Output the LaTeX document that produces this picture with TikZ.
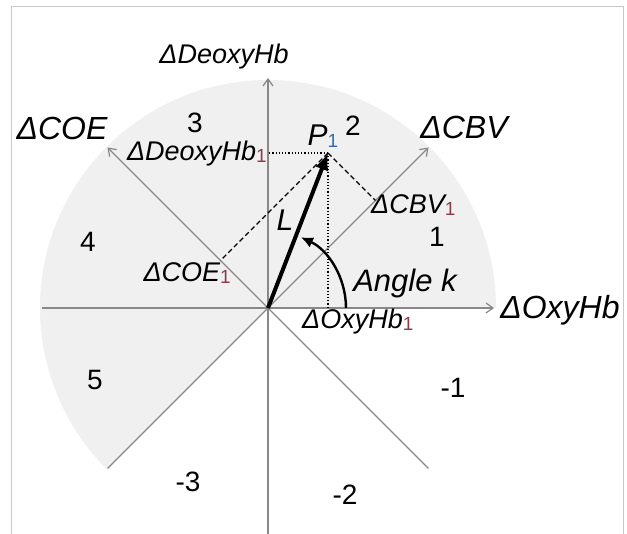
\documentclass[tikz,border=0pt]{standalone}
\usepackage{fontspec}
\setmainfont{Liberation Sans}
\usetikzlibrary{arrows.meta}
\definecolor{axisgray}{RGB}{136,136,136}
\definecolor{sectorgray}{RGB}{240,240,240}
\definecolor{framegray}{RGB}{200,200,200}
\definecolor{subred}{RGB}{140,60,70}
\definecolor{subblue}{RGB}{50,110,180}
\newcommand{\subone}[1]{{\fontsize{19}{19}\selectfont\upshape\color{#1}\raisebox{-2pt}{1}}}
\tikzset{
  axisline/.style={draw=axisgray, line width=1.3pt},
  axisarrow/.style={axisline, -{Straight Barb[length=7pt,width=10pt,line width=1.2pt]}},
  axislabel/.style={font=\fontsize{32}{32}\selectfont\itshape, inner sep=0pt},
  sublabel/.style={font=\fontsize{27}{27}\selectfont\itshape, inner sep=0pt},
  regionlabel/.style={font=\fontsize{28}{28}\selectfont, inner sep=0pt},
  projdot/.style={draw=black, line width=1.2pt, dotted},
  projdash/.style={draw=black, line width=1.2pt, dash pattern=on 5pt off 3pt},
}
\begin{document}
\begin{tikzpicture}[x=1pt,y=1pt]
\useasboundingbox (0,0) rectangle (627,534);
% frame
\draw[framegray, line width=1pt] (11,-5) -- (11,527) -- (623,527) -- (623,-5);
% coordinates
\coordinate (O) at (268,226);
\coordinate (E) at (494,226);
\coordinate (W) at (42,226);
\coordinate (N) at (268,456);
\coordinate (S) at (268,-2);
\coordinate (NE) at (428.5,386.5);
\coordinate (NW) at (107.5,386.5);
\coordinate (SW) at (107.5,65.5);
\coordinate (SE) at (428.5,65.5);
\coordinate (P) at (328,381);
\coordinate (Py) at (268,381);
\coordinate (Px) at (328,226);
\coordinate (Pc) at (375.5,333.5);
\coordinate (Pe) at (220.5,273.5);
% sector
\fill[sectorgray] (O) -- ++(0:228) arc[start angle=0, end angle=225, radius=228] -- cycle;
% axes
\draw[axisline] (W) -- (O);
\draw[axisarrow] (O) -- (E);
\draw[axisline] (S) -- (O);
\draw[axisarrow] (O) -- (N);
\draw[axisline] (SW) -- (O);
\draw[axisarrow] (O) -- (NE);
\draw[axisline] (SE) -- (O);
\draw[axisarrow] (O) -- (NW);
% projections
\draw[projdot] (P) -- (Py);
\draw[projdot] (P) -- (Px);
\draw[projdash] (P) -- (Pc);
\draw[projdash] (P) -- (Pe);
% vector L
\draw[line width=4pt, -{Latex[length=17pt,width=14pt]}] (O) -- (P);
% angle arc
\draw[line width=2.4pt, -{Latex[length=12pt,width=11pt]}] ([shift={(0:78)}]O) arc[start angle=0, end angle=65, radius=78];
% axis labels
\node[axislabel, font=\fontsize{27}{27}\selectfont\itshape] (lD) at (224,477) {ΔDeoxyHb};
\node[axislabel] (lC) at (62,406) {ΔCOE};
\node[axislabel] (lB) at (464,407) {ΔCBV};
\node[axislabel] (lO) at (560,224) {ΔOxyHb};
% region labels
\node[regionlabel] (r3) at (195,411) {3};
\node[regionlabel] (r2) at (353,408) {2};
\node[regionlabel] (r1) at (437,297) {1};
\node[regionlabel] (r4) at (88,292) {4};
\node[regionlabel] (r5) at (95,154) {5};
\node[regionlabel] (rm3) at (188,52) {-3};
\node[regionlabel] (rm2) at (345,39) {-2};
\node[regionlabel] (rm1) at (453,146) {-1};
% point labels
\node[sublabel, font=\fontsize{30}{30}\selectfont\itshape] (lP) at (323,398) {P\subone{subblue}};
\node[sublabel, anchor=east] (lDy) at (267,380) {ΔDeoxyHb\subone{subred}};
\node[sublabel, anchor=west] (lCb) at (371,329) {ΔCBV\subone{subred}};
\node[sublabel, anchor=east] (lCe) at (231,261) {ΔCOE\subone{subred}};
\node[sublabel, anchor=west] (lOx) at (302,212) {ΔOxyHb\subone{subred}};
\node[sublabel, font=\fontsize{30}{30}\selectfont\itshape] (lL) at (285,314) {L};
\node[sublabel, font=\fontsize{31}{31}\selectfont\itshape] (lA) at (405,251) {Angle k};
\end{tikzpicture}
\end{document}
